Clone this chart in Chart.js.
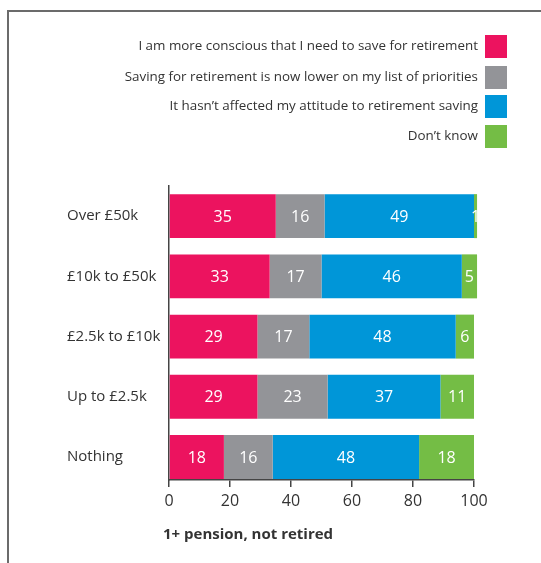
<!DOCTYPE html>
<html>
<head>
<meta charset="utf-8">
<script src="https://cdn.jsdelivr.net/npm/chart.js@4/dist/chart.umd.min.js"></script>
<style>
  html, body { margin: 0; padding: 0; background: #fff; }
  #wrap { position: relative; width: 541px; height: 563px; overflow: hidden; }
  #frame { position: absolute; left: 7px; top: 10px; width: 600px; height: 600px;
           border-left: 2px solid #6b6b6b; border-top: 2px solid #6b6b6b; box-sizing: border-box; }
  canvas { position: absolute; left: 0; top: 0; }
</style>
</head>
<body>
<div id="wrap">
  <div id="frame"></div>
  <canvas id="c" width="541" height="563"></canvas>
</div>
<script>
// ---- data ----
const categories = ["Over £50k", "£10k to £50k", "£2.5k to £10k", "Up to £2.5k", "Nothing"];
const seriesNames = [
  "I am more conscious that I need to save for retirement",
  "Saving for retirement is now lower on my list of priorities",
  "It hasn’t affected my attitude to retirement saving",
  "Don’t know"
];
const moreConscious   = [35, 33, 29, 29, 18];
const lowerPriority   = [16, 17, 17, 23, 16];
const notAffected     = [49, 46, 48, 37, 48];
const dontKnow        = [1, 5, 6, 11, 18];
const xTicks = [0, 20, 40, 60, 80, 100];
const axisTitle = "1+ pension, not retired";

const colors = ["#EC135F", "#939498", "#0096D8", "#74BD45"];
const FONT = "'Open Sans', 'Noto Sans', sans-serif";
const TEXT = "#333333";

const seriesValues = [moreConscious, lowerPriority, notAffected, dontKnow];

const valueLabels = {
  id: 'valueLabels',
  afterDatasetsDraw(chart) {
    const ctx = chart.ctx;
    ctx.save();
    ctx.font = "16px " + FONT;
    ctx.fillStyle = "#ffffff";
    ctx.textAlign = "center";
    ctx.textBaseline = "middle";
    chart.data.datasets.forEach((ds, di) => {
      const meta = chart.getDatasetMeta(di);
      meta.data.forEach((el, i) => {
        const p = el.getCenterPoint();
        ctx.fillText(String(ds.data[i]), p.x, p.y + 1);
      });
    });
    ctx.restore();
  }
};

const rightLegend = {
  id: 'rightLegend',
  afterDraw(chart) {
    const ctx = chart.ctx;
    ctx.save();
    ctx.font = "13.4px " + FONT;
    ctx.textAlign = "right";
    ctx.textBaseline = "middle";
    const boxRight = chart.chartArea.right + 33;
    const tops = [35, 66, 95, 125];
    chart.data.datasets.forEach((ds, i) => {
      const top = tops[i];
      ctx.fillStyle = ds.backgroundColor;
      ctx.fillRect(boxRight - 22, top, 22, 23);
      ctx.fillStyle = TEXT;
      ctx.fillText(ds.label, boxRight - 29, top + 11);
    });
    ctx.restore();
  }
};

const bottomTitle = {
  id: 'bottomTitle',
  afterDraw(chart) {
    const ctx = chart.ctx;
    ctx.save();
    ctx.font = "bold 15px " + FONT;
    ctx.fillStyle = TEXT;
    ctx.textAlign = "left";
    ctx.textBaseline = "middle";
    ctx.fillText(axisTitle, chart.chartArea.left - 6, 535);
    ctx.restore();
  }
};

new Chart(document.getElementById('c'), {
  type: 'bar',
  data: {
    labels: categories,
    datasets: seriesNames.map((name, i) => ({
      label: name,
      data: seriesValues[i],
      backgroundColor: colors[i],
      borderWidth: 0,
      barPercentage: 0.73,
      categoryPercentage: 1.0,
      clip: false
    }))
  },
  options: {
    indexAxis: 'y',
    responsive: false,
    animation: false,
    layout: { padding: { left: 67, right: 67, top: 186, bottom: 0 } },
    plugins: { legend: { display: false }, tooltip: { enabled: false }, title: { display: false } },
    scales: {
      x: {
        stacked: true,
        min: 0, max: 100,
        afterBuildTicks(scale) { scale.ticks = xTicks.map(v => ({ value: v })); },
        afterFit(scale) { scale.height = 83; },
        grid: { display: true, drawOnChartArea: false, drawTicks: true, tickLength: 7, color: "#444", lineWidth: 1.5 },
        border: { display: true, color: "#444", width: 1.5 },
        ticks: { color: TEXT, font: { family: FONT, size: 16 }, padding: 5, maxRotation: 0 }
      },
      y: {
        stacked: true,
        // the category bands leave a little less room below the last bar than above the first
        afterBuildTicks(scale) { scale._startValue = -0.5; scale._valueRange = 4.88; },
        afterFit(scale) { scale.width = 102; },
        grid: { display: false },
        border: { display: true, color: "#444", width: 1.5 },
        ticks: { color: TEXT, font: { family: FONT, size: 15 }, crossAlign: 'far', padding: 8 }
      }
    }
  },
  plugins: [valueLabels, rightLegend, bottomTitle]
});
</script>
</body>
</html>
